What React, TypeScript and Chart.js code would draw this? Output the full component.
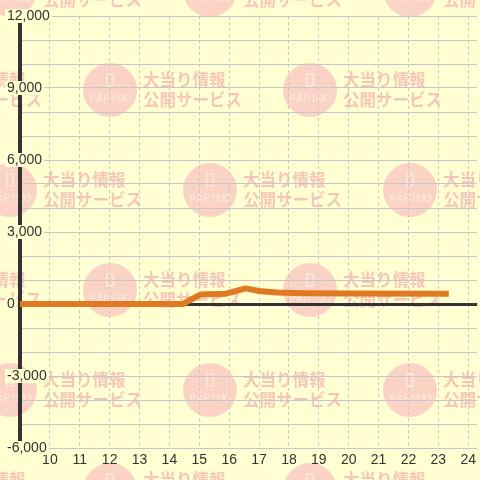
import React, { useEffect, useRef } from 'react';
import { Chart, registerables } from 'chart.js';

Chart.register(...registerables);

// ---- data ----
const hours = [9, 14.45, 15.05, 15.9, 16.55, 17.0, 17.6, 18.5, 20.0, 23.25];
const values = [0, 0, 400, 430, 650, 540, 480, 450, 440, 425];
const xTickValues = [10, 11, 12, 13, 14, 15, 16, 17, 18, 19, 20, 21, 22, 23, 24];
const xMin = 9;
const xMax = 24.3;
const yMin = -6000;
const yMax = 12000;
const yStep = 1000;
const yLabelStep = 3000;
const watermarkLine1 = '大当り情報';
const watermarkLine2 = '公開サービス';
const logoText = 'PAPIMO';

const BG = '#ffffd2';
const LINE_COLOR = '#e07a22';
const AXIS_COLOR = '#333333';
const GRID_COLOR = '#c6c6ce';
const FONT = '"Liberation Sans", Arial, sans-serif';

const watermarkPlugin = {
  id: 'bgWatermark',
  beforeDraw(chart: any) {
    const { ctx, width } = chart;
    ctx.save();
    ctx.fillStyle = BG;
    ctx.fillRect(0, 0, chart.width, chart.height);
    for (let r = 0; r < 6; r++) {
      const cy = -10 + r * 100;
      const startX = r % 2 === 0 ? 10 : -90;
      for (let cx = startX; cx <= width + 100; cx += 200) {
        ctx.beginPath();
        ctx.arc(cx, cy, 27, 0, Math.PI * 2);
        ctx.fillStyle = '#fbd3c5';
        ctx.fill();
        // phone icon
        ctx.strokeStyle = '#fdeadc';
        ctx.lineWidth = 1.5;
        ctx.beginPath();
        const px = cx - 3, py = cy - 16, pw = 6, ph = 12;
        ctx.moveTo(px + 1.5, py);
        ctx.lineTo(px + pw - 1.5, py);
        ctx.quadraticCurveTo(px + pw, py, px + pw, py + 1.5);
        ctx.lineTo(px + pw, py + ph - 1.5);
        ctx.quadraticCurveTo(px + pw, py + ph, px + pw - 1.5, py + ph);
        ctx.lineTo(px + 1.5, py + ph);
        ctx.quadraticCurveTo(px, py + ph, px, py + ph - 1.5);
        ctx.lineTo(px, py + 1.5);
        ctx.quadraticCurveTo(px, py, px + 1.5, py);
        ctx.stroke();
        // logo text
        ctx.fillStyle = '#fdeadc';
        ctx.font = '10px "Liberation Sans", Arial, sans-serif';
        ctx.textAlign = 'center';
        ctx.textBaseline = 'middle';
        const letters = logoText.split('');
        const spacing = 7;
        letters.forEach((ch, i) => {
          ctx.fillText(ch, cx + (i - (letters.length - 1) / 2) * spacing, cy + 9);
        });
        // side text
        ctx.fillStyle = '#f6c7b9';
        ctx.font = 'bold 16.5px "Noto Sans CJK JP", sans-serif';
        ctx.textAlign = 'left';
        ctx.fillText(watermarkLine1, cx + 33, cy - 10);
        ctx.fillText(watermarkLine2, cx + 33, cy + 10);
      }
    }
    ctx.restore();
  },
};

export default function App() {
  const canvasRef = useRef<HTMLCanvasElement | null>(null);

  useEffect(() => {
    if (!canvasRef.current) return;
    const data = hours.map((h, i) => ({ x: h, y: values[i] }));
    const chart = new Chart(canvasRef.current, {
      type: 'line',
      data: {
        datasets: [
          {
            data,
            borderColor: LINE_COLOR,
            borderWidth: 6,
            borderCapStyle: 'square',
            borderJoinStyle: 'round',
            pointRadius: 0,
            tension: 0,
            fill: false,
          },
        ],
      },
      options: {
        animation: false,
        responsive: true,
        maintainAspectRatio: false,
        devicePixelRatio: 1,
        layout: { padding: { top: 16, left: 0, right: 0, bottom: 0 } },
        plugins: {
          legend: { display: false },
          tooltip: { enabled: false },
          title: { display: false },
        },
        scales: {
          x: {
            type: 'linear',
            min: xMin,
            max: xMax,
            afterBuildTicks: (scale: any) => {
              scale.ticks = xTickValues.map((v) => ({ value: v }));
            },
            afterFit: (scale: any) => {
              scale.height = 32;
            },
            ticks: {
              autoSkip: false,
              maxRotation: 0,
              padding: 4,
              color: AXIS_COLOR,
              font: { family: FONT, size: 14 },
              callback: (v: any) => String(v),
            },
            grid: { color: GRID_COLOR, lineWidth: 1, drawTicks: false },
            border: { display: false, dash: [3, 3] },
          },
          y: {
            type: 'linear',
            min: yMin,
            max: yMax,
            afterFit: (scale: any) => {
              scale.width = 20;
            },
            ticks: {
              stepSize: yStep,
              autoSkip: false,
              mirror: true,
              padding: -13,
              color: AXIS_COLOR,
              font: { family: FONT, size: 14, lineHeight: 1 },
              callback: (v: any) => (v % yLabelStep === 0 ? Number(v).toLocaleString('en-US') : ''),
              showLabelBackdrop: true,
              backdropColor: (ctx: any) =>
                ctx.tick && ctx.tick.value % yLabelStep === 0 ? BG : 'rgba(0,0,0,0)',
              backdropPadding: { x: 2, y: 0 },
            },
            grid: {
              color: (ctx: any) => (ctx.tick && ctx.tick.value === 0 ? AXIS_COLOR : GRID_COLOR),
              lineWidth: (ctx: any) => (ctx.tick && ctx.tick.value === 0 ? 3 : 1),
              drawTicks: false,
            },
            border: { display: true, color: AXIS_COLOR, width: 4 },
          },
        },
      } as any,
      plugins: [watermarkPlugin],
    });
    return () => chart.destroy();
  }, []);

  return (
    <div style={{ position: 'fixed', left: 0, top: 0, width: 480, height: 480 }}>
      <canvas ref={canvasRef} />
    </div>
  );
}
